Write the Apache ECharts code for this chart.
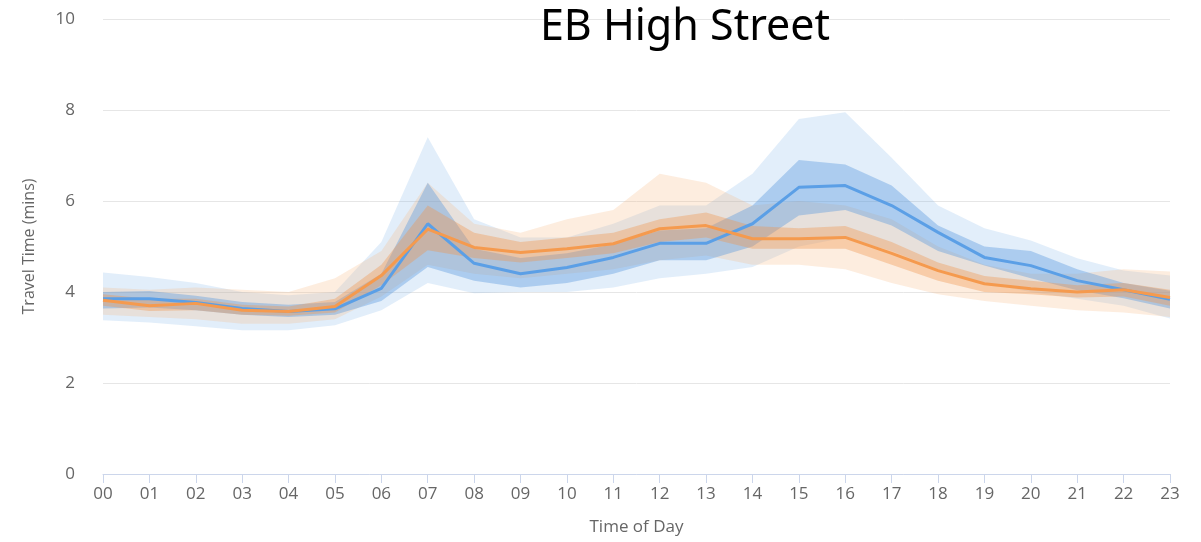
<!DOCTYPE html>
<html>
<head>
<meta charset="utf-8">
<script src="https://cdn.jsdelivr.net/npm/echarts@6/dist/echarts.min.js"></script>
<style>
  html, body { margin: 0; padding: 0; background: #fff; }
  #main { width: 1201px; height: 542px; }
</style>
</head>
<body>
<div id="main"></div>
<script>
var hours = ['00','01','02','03','04','05','06','07','08','09','10','11','12','13','14','15','16','17','18','19','20','21','22','23'];

// blue series: median, inner band (low/high), outer band (low/high)
var blueMid   = [3.85,3.85,3.77,3.64,3.57,3.63,4.08,5.5,4.63,4.4,4.54,4.76,5.07,5.07,5.5,6.3,6.34,5.9,5.31,4.76,4.58,4.25,4.05,3.84];
var blueInLo  = [3.64,3.66,3.6,3.5,3.45,3.5,3.8,4.55,4.25,4.1,4.2,4.4,4.7,4.7,5.0,5.68,5.8,5.46,4.9,4.58,4.3,4.04,3.86,3.64];
var blueInHi  = [4.0,4.02,3.92,3.78,3.72,3.78,4.4,6.4,4.95,4.75,4.85,5.05,5.35,5.4,5.9,6.9,6.8,6.34,5.46,5.0,4.9,4.5,4.2,4.03];
var blueOutLo = [3.38,3.33,3.25,3.16,3.16,3.27,3.6,4.2,3.97,4.0,4.0,4.1,4.3,4.4,4.55,5.0,5.2,4.9,4.5,4.2,4.0,3.85,3.7,3.42];
var blueOutHi = [4.43,4.33,4.2,4.0,3.93,4.0,5.1,7.4,5.6,5.2,5.2,5.5,5.9,5.9,6.6,7.8,7.95,6.95,5.9,5.4,5.13,4.74,4.47,4.36];

// orange series
var orgMid    = [3.82,3.7,3.75,3.6,3.57,3.68,4.36,5.38,4.98,4.87,4.95,5.06,5.39,5.46,5.17,5.17,5.2,4.85,4.47,4.18,4.07,4.0,4.05,3.88];
var orgInLo   = [3.7,3.58,3.6,3.5,3.48,3.55,4.15,4.92,4.75,4.65,4.75,4.85,5.1,5.2,4.95,4.95,4.95,4.6,4.25,4.0,3.95,3.88,3.9,3.7];
var orgInHi   = [3.95,3.85,3.85,3.72,3.68,3.85,4.6,5.9,5.3,5.1,5.2,5.3,5.6,5.75,5.45,5.4,5.45,5.1,4.65,4.35,4.25,4.15,4.2,4.05];
var orgOutLo  = [3.5,3.45,3.4,3.3,3.3,3.4,3.9,4.6,4.4,4.3,4.4,4.5,4.7,4.8,4.6,4.6,4.5,4.2,3.95,3.8,3.7,3.6,3.55,3.45];
var orgOutHi  = [4.1,4.05,4.1,4.05,4.0,4.3,4.9,6.4,5.5,5.3,5.6,5.8,6.6,6.4,5.9,6.0,5.9,5.6,5.0,4.6,4.4,4.4,4.5,4.45];

var yTicks = [0, 2, 4, 6, 8, 10];

function diff(hi, lo) {
  var out = [];
  for (var i = 0; i < hi.length; i++) out[i] = +(hi[i] - lo[i]).toFixed(3);
  return out;
}

function band(name, lo, hi, color) {
  return [{
    name: name + '-base',
    type: 'line',
    stack: name,
    data: lo,
    symbol: 'none',
    silent: true,
    lineStyle: { opacity: 0 },
    itemStyle: { opacity: 0 }
  }, {
    name: name,
    type: 'line',
    stack: name,
    data: diff(hi, lo),
    symbol: 'none',
    silent: true,
    lineStyle: { opacity: 0 },
    areaStyle: { color: color, opacity: 1 }
  }];
}

function midLine(name, data, color) {
  return {
    name: name,
    type: 'line',
    data: data,
    symbol: 'none',
    z: 5,
    lineStyle: { color: color, width: 3 },
    itemStyle: { color: color }
  };
}

var series = [].concat(
  band('blueOut', blueOutLo, blueOutHi, 'rgba(124,176,234,0.22)'),
  band('orgOut', orgOutLo, orgOutHi, 'rgba(247,178,120,0.24)'),
  band('blueIn', blueInLo, blueInHi, 'rgba(84,150,222,0.38)'),
  band('orgIn', orgInLo, orgInHi, 'rgba(240,150,80,0.38)'),
  [midLine('blue', blueMid, '#5b9fe6'), midLine('orange', orgMid, '#f59a4e')]
);

var chart = echarts.init(document.getElementById('main'), null, { renderer: 'canvas' });

var option = {
  animation: false,
  backgroundColor: '#fff',
  title: {
    text: 'EB High Street',
    left: 680,
    top: 1,
    textAlign: 'center',
    textStyle: {
      fontFamily: 'Noto Sans',
      fontSize: 43,
      fontWeight: 'normal',
      color: '#000'
    }
  },
  grid: {
    left: 103,
    right: 31,
    top: 19,
    bottom: 68
  },
  xAxis: {
    type: 'category',
    data: hours,
    boundaryGap: false,
    name: 'Time of Day',
    nameLocation: 'middle',
    nameGap: 45,
    nameTextStyle: { color: '#666', fontSize: 17, fontFamily: 'Open Sans' },
    axisLine: { lineStyle: { color: '#ccd6eb', width: 1 } },
    axisTick: { alignWithLabel: true, length: 9, lineStyle: { color: '#ccd6eb' } },
    axisLabel: { color: '#666', fontSize: 17, fontFamily: 'Open Sans', margin: 12 },
    splitLine: { show: false }
  },
  yAxis: {
    type: 'value',
    min: yTicks[0],
    max: yTicks[yTicks.length - 1],
    interval: 2,
    name: 'Travel Time (mins)',
    nameLocation: 'middle',
    nameGap: 66,
    nameTextStyle: { color: '#666', fontSize: 16, fontFamily: 'Open Sans' },
    axisLine: { show: false },
    axisTick: { show: false },
    axisLabel: { color: '#666', fontSize: 17, fontFamily: 'Open Sans', margin: 28 },
    splitLine: { lineStyle: { color: '#e6e6e6', width: 1 } }
  },
  series: series
};

chart.setOption(option);
</script>
</body>
</html>
